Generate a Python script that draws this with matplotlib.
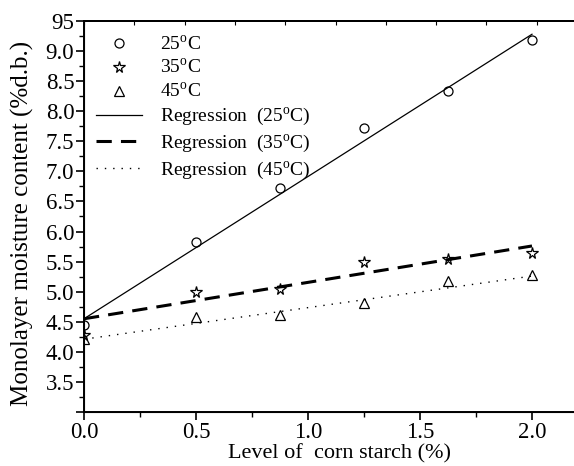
import numpy as np
import matplotlib
matplotlib.use('Agg')
import matplotlib.pyplot as plt
from matplotlib.ticker import MultipleLocator, FixedLocator, FixedFormatter

plt.rcParams['font.family'] = 'Liberation Serif'
plt.rcParams['mathtext.fontset'] = 'custom'
plt.rcParams['mathtext.rm'] = 'Liberation Serif'

# level of corn starch (%)
starch = [0.0, 0.5, 0.875, 1.25, 1.625, 2.0]
m25 = [4.45, 5.82, 6.72, 7.72, 8.33, 9.18]
m35 = [4.28, 5.00, 5.05, 5.50, 5.54, 5.64]
m45 = [4.22, 4.58, 4.62, 4.82, 5.18, 5.28]

# regression end points (x=0, x=2)
reg_x = [0.0, 2.0]
reg25 = [4.55, 9.28]
reg35 = [4.55, 5.76]
reg45 = [4.21, 5.26]

ytick_vals = [3.0, 3.5, 4.0, 4.5, 5.0, 5.5, 6.0, 6.5, 7.0, 7.5, 8.0, 8.5, 9.0, 9.5]
ytick_labels = ['', '3.5', '4.0', '4.5', '5.0', '5.5', '6.0', '6.5', '7.0', '7.5', '8.0', '8.5', '9.0', '95']

fig = plt.figure(figsize=(5.74, 4.66), dpi=100)
ax = fig.add_axes([84/574, 54/466, 1 - 84/574, (412-21)/466])

deg = r'$^{\rm o}$'
ax.plot(starch, m25, 'o', mfc='none', mec='k', ms=6.5, mew=0.9, label='25' + deg + 'C')
ax.plot(starch, m35, '*', mfc='none', mec='k', ms=8.5, mew=0.9, label='35' + deg + 'C')
ax.plot(starch, m45, '^', mfc='none', mec='k', ms=7.5, mew=0.9, label='45' + deg + 'C')
ax.plot(reg_x, reg25, '-', color='k', lw=0.9, label='Regression  (25' + deg + 'C)')
ax.plot(reg_x, reg35, '--', color='k', lw=2.2, dashes=(5, 3), label='Regression  (35' + deg + 'C)')
ax.plot(reg_x, reg45, ':', color='k', lw=1.0, dashes=(1, 5), label='Regression  (45' + deg + 'C)')

ax.set_xlim(0, 2.1875)
ax.set_ylim(3.0, 9.5)
ax.xaxis.set_major_locator(MultipleLocator(0.5))
ax.xaxis.set_minor_locator(MultipleLocator(0.25))
ax.xaxis.set_major_formatter(matplotlib.ticker.FormatStrFormatter('%.1f'))
ax.yaxis.set_major_locator(FixedLocator(ytick_vals))
ax.yaxis.set_major_formatter(FixedFormatter(ytick_labels))
ax.yaxis.set_minor_locator(MultipleLocator(0.25))
ax.tick_params(which='major', direction='out', length=6, width=1.2, labelsize=16.5, pad=1)
ax.tick_params(which='minor', direction='out', length=3.5, width=1.0)
for s in ['left', 'bottom', 'top']:
    ax.spines[s].set_linewidth(1.4)
ax.spines['right'].set_visible(False)

top = ax.twiny()
top.set_xlim(ax.get_xlim())
top.xaxis.set_major_locator(MultipleLocator(0.2246))
top.tick_params(axis='x', direction='in', length=3, width=0.8, labeltop=False)
top.spines['right'].set_visible(False)
top.spines['top'].set_linewidth(1.4)

fig.text(340/574, 1 - 458/466, 'Level of  corn starch (%)', fontsize=16,
         ha='center', va='baseline')
fig.text(22/574, 0.52, 'Monolayer moisture content (%d.b.)', fontsize=18,
         rotation=90, ha='center', va='center')

leg = ax.legend(loc='upper left', frameon=False, fontsize=14, handlelength=2.4,
                handletextpad=0.9, labelspacing=0.22, borderaxespad=0.0,
                bbox_to_anchor=(0.008, 0.985))

fig.savefig('out.png', dpi=100)
